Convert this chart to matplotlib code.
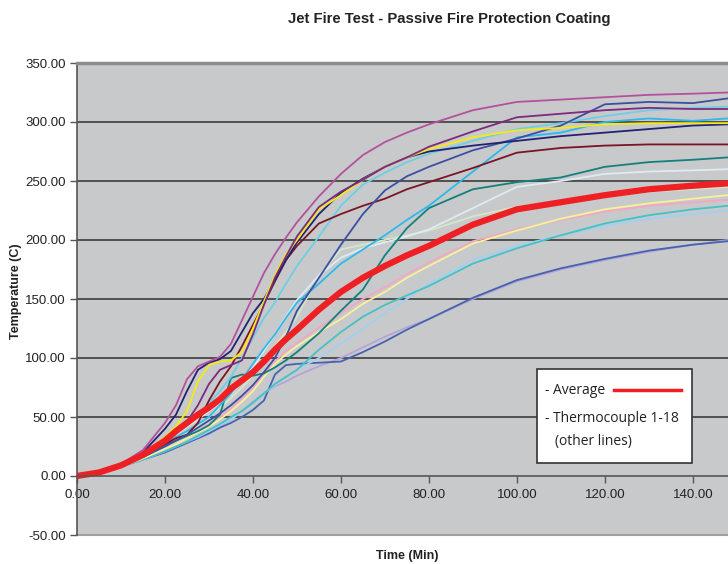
import matplotlib
matplotlib.use("Agg")
import matplotlib.pyplot as plt
from matplotlib.ticker import FormatStrFormatter
from matplotlib.patches import Rectangle
from matplotlib.lines import Line2D

# time axis (minutes)
time_min = [0, 5, 10, 15, 20, 22.5, 25, 27.5, 30, 32.5, 35, 37.5, 40, 42.5, 45, 47.5,
            50, 55, 60, 65, 70, 75, 80, 90, 100, 110, 120, 130, 140, 148]

# average of all thermocouples
average = [0, 3, 9, 18, 30, 38, 45, 52, 58, 65, 74, 81, 88, 97, 107, 116,
           124, 141, 156, 168, 178, 187, 195, 213, 226, 232, 238, 243, 246, 248]

# individual thermocouples
tc_magenta = [0, 3, 10, 22, 45, 60, 82, 93, 97, 101, 112, 132, 152, 172, 188, 202,
              215, 237, 256, 272, 283, 291, 298, 310, 317, 319, 321, 323, 324, 325]
tc_navy = [0, 3, 9, 20, 40, 52, 72, 90, 96, 99, 106, 122, 138, 150, 166, 183,
           198, 222, 240, 252, 262, 270, 275, 280, 284, 288, 291, 294, 297, 298]
tc_yellow = [0, 3, 9, 18, 33, 42, 55, 80, 94, 97, 98, 105, 125, 148, 170, 188,
             200, 226, 238, 251, 262, 270, 277, 287, 293, 295, 298, 299, 299, 299]
tc_purple = [0, 3, 9, 18, 30, 38, 46, 60, 78, 90, 94, 98, 120, 145, 168, 186,
             203, 228, 241, 251, 262, 270, 279, 292, 304, 307, 310, 312, 311, 311]
tc_maroon = [0, 3, 9, 17, 27, 32, 35, 45, 64, 80, 93, 110, 128, 146, 165, 183,
             195, 214, 222, 229, 235, 243, 249, 261, 274, 278, 280, 281, 281, 281]
tc_cyan = [0, 3, 9, 18, 30, 37, 44, 52, 62, 72, 84, 100, 117, 134, 147, 163,
           178, 203, 229, 247, 257, 266, 273, 284, 294, 299, 305, 310, 312, 313]
tc_skyblue = [0, 3, 9, 17, 27, 33, 38, 44, 50, 60, 70, 82, 95, 108, 120, 134,
              147, 163, 180, 192, 204, 217, 229, 258, 287, 291, 300, 303, 301, 303]
tc_royal = [0, 3, 8, 16, 25, 30, 35, 41, 47, 53, 60, 68, 77, 88, 100, 118,
            140, 168, 196, 222, 242, 254, 262, 276, 286, 297, 315, 317, 316, 320]
tc_teal = [0, 3, 9, 16, 26, 30, 34, 38, 43, 52, 83, 86, 85, 87, 92, 98,
           105, 121, 140, 158, 187, 210, 227, 243, 249, 253, 262, 266, 268, 270]
tc_pale = [0, 3, 9, 18, 29, 35, 42, 48, 55, 62, 69, 80, 92, 106, 120, 135,
           149, 170, 185, 193, 198, 203, 209, 227, 245, 250, 256, 258, 259, 260]
tc_palegreen = [0, 3, 9, 17, 27, 32, 37, 43, 50, 58, 66, 75, 85, 97, 110, 122,
                135, 170, 192, 196, 200, 204, 208, 220, 228, 233, 237, 241, 243, 245]
tc_lightyellow = [0, 3, 8, 15, 23, 27, 32, 37, 42, 48, 55, 63, 72, 84, 95, 103,
                  110, 122, 133, 146, 156, 168, 178, 197, 208, 218, 226, 231, 235, 238]
tc_pink = [0, 3, 8, 15, 23, 27, 32, 38, 44, 50, 57, 66, 75, 86, 97, 106,
           113, 126, 138, 150, 160, 171, 181, 199, 209, 217, 224, 229, 232, 234]
tc_turquoise = [0, 3, 8, 14, 21, 25, 29, 34, 39, 44, 50, 55, 62, 70, 78, 84,
                90, 107, 122, 135, 145, 153, 161, 180, 193, 204, 214, 221, 226, 229]
tc_lightsky = [0, 3, 8, 14, 21, 25, 29, 33, 38, 43, 48, 55, 62, 70, 77, 84,
               90, 100, 112, 125, 138, 150, 163, 183, 195, 204, 212, 218, 222, 225]
tc_lavender = [0, 3, 8, 14, 20, 24, 28, 32, 37, 42, 48, 55, 63, 70, 76, 80,
               85, 93, 100, 109, 118, 126, 133, 150, 165, 175, 183, 190, 196, 200]
tc_blue = [0, 3, 8, 14, 20, 24, 28, 32, 36, 41, 45, 50, 56, 64, 86, 94,
           95, 96, 97, 105, 114, 124, 133, 151, 166, 176, 184, 191, 196, 199]

x_ticks = [0, 20, 40, 60, 80, 100, 120, 140]
y_ticks = [-50, 0, 50, 100, 150, 200, 250, 300, 350]

series = [
    (tc_lavender, '#b6a4d8'), (tc_blue, '#4563b0'), (tc_lightsky, '#a2d0f2'),
    (tc_turquoise, '#44c2c4'), (tc_pink, '#f3a6c6'), (tc_lightyellow, '#f6f29a'),
    (tc_palegreen, '#d4e8c8'), (tc_pale, '#dcecf2'), (tc_teal, '#14807e'),
    (tc_skyblue, '#2cb9ee'), (tc_cyan, '#6dcfe4'), (tc_maroon, '#7b1523'),
    (tc_royal, '#3c4fa0'), (tc_navy, '#232272'), (tc_yellow, '#f5ea14'),
    (tc_purple, '#7d2a7f'), (tc_magenta, '#b4519e'),
]

W, H = 728, 564
fig = plt.figure(figsize=(W / 100, H / 100), dpi=100)
ax = fig.add_axes([77 / W, (H - 535) / H, (W - 77) / W, (535 - 63) / H])
ax.set_facecolor('#c8c9cb')

for v in [50, 100, 150, 200, 250, 300]:
    ax.axhline(v, color='#303030', lw=1.1, zorder=1)

for vals, col in series:
    ax.plot(time_min, vals, color=col, lw=1.3, zorder=2)
ax.plot(time_min, average, color='#ee2024', lw=4.5, zorder=3, solid_capstyle='butt')

ax.set_xlim(0, 148)
ax.set_ylim(-50, 350)
ax.set_xticks(x_ticks)
ax.set_yticks(y_ticks)
ax.xaxis.set_major_formatter(FormatStrFormatter('%.2f'))
ax.yaxis.set_major_formatter(FormatStrFormatter('%.2f'))

ax.spines['bottom'].set_position(('data', 0))
ax.spines['bottom'].set_color('#555555')
ax.spines['bottom'].set_linewidth(1.2)
ax.spines['bottom'].set_zorder(4)
ax.spines['left'].set_color('#555555')
ax.spines['left'].set_linewidth(1.2)
ax.spines['top'].set_color('#8c8c8c')
ax.spines['top'].set_linewidth(2.5)
ax.spines['right'].set_visible(False)
ax.axhline(-50, color='#a0a0a0', lw=1.5, clip_on=False, zorder=1)

for lab in ax.get_xticklabels() + ax.get_yticklabels():
    lab.set_fontfamily('Liberation Sans')
    lab.set_fontsize(9.5)
    lab.set_color('#222222')
ax.tick_params(axis='x', direction='out', length=5, width=1, color='#555555', pad=4)
ax.tick_params(axis='y', direction='out', length=5, width=1, color='#555555', pad=3)

fig.text(449 / W, 1 - 19 / H, 'Jet Fire Test - Passive Fire Protection Coating',
         ha='center', va='center', fontsize=10.7, fontweight='bold',
         family='Liberation Sans', color='#222222')
fig.text(16 / W, 1 - 291 / H, 'Temperature (C)', rotation=90, ha='center', va='center',
         fontsize=9, fontweight='bold', family='Liberation Sans', color='#222222')
fig.text(407 / W, 1 - 556 / H, 'Time (Min)', ha='center', va='center',
         fontsize=9, fontweight='bold', family='Liberation Sans', color='#222222')

# legend box
fig.add_artist(Rectangle((537 / W, 1 - 463 / H), (692 - 537) / W, (463 - 369) / H,
                         transform=fig.transFigure, facecolor='white',
                         edgecolor='#333333', lw=1.2, zorder=5))
fig.text(545 / W, 1 - 390 / H, '- Average', ha='left', va='center', fontsize=10,
         family='Open Sans', color='#222222', zorder=6)
fig.add_artist(Line2D([614 / W, 681 / W], [1 - 390 / H, 1 - 390 / H],
                      transform=fig.transFigure, color='#ee2024', lw=2.5, zorder=6))
fig.text(545 / W, 1 - 418 / H, '- Thermocouple 1-18', ha='left', va='center', fontsize=10,
         family='Open Sans', color='#222222', zorder=6)
fig.text(555 / W, 1 - 441 / H, '(other lines)', ha='left', va='center', fontsize=10,
         family='Open Sans', color='#222222', zorder=6)

fig.savefig('out.png', dpi=100, facecolor='white')
